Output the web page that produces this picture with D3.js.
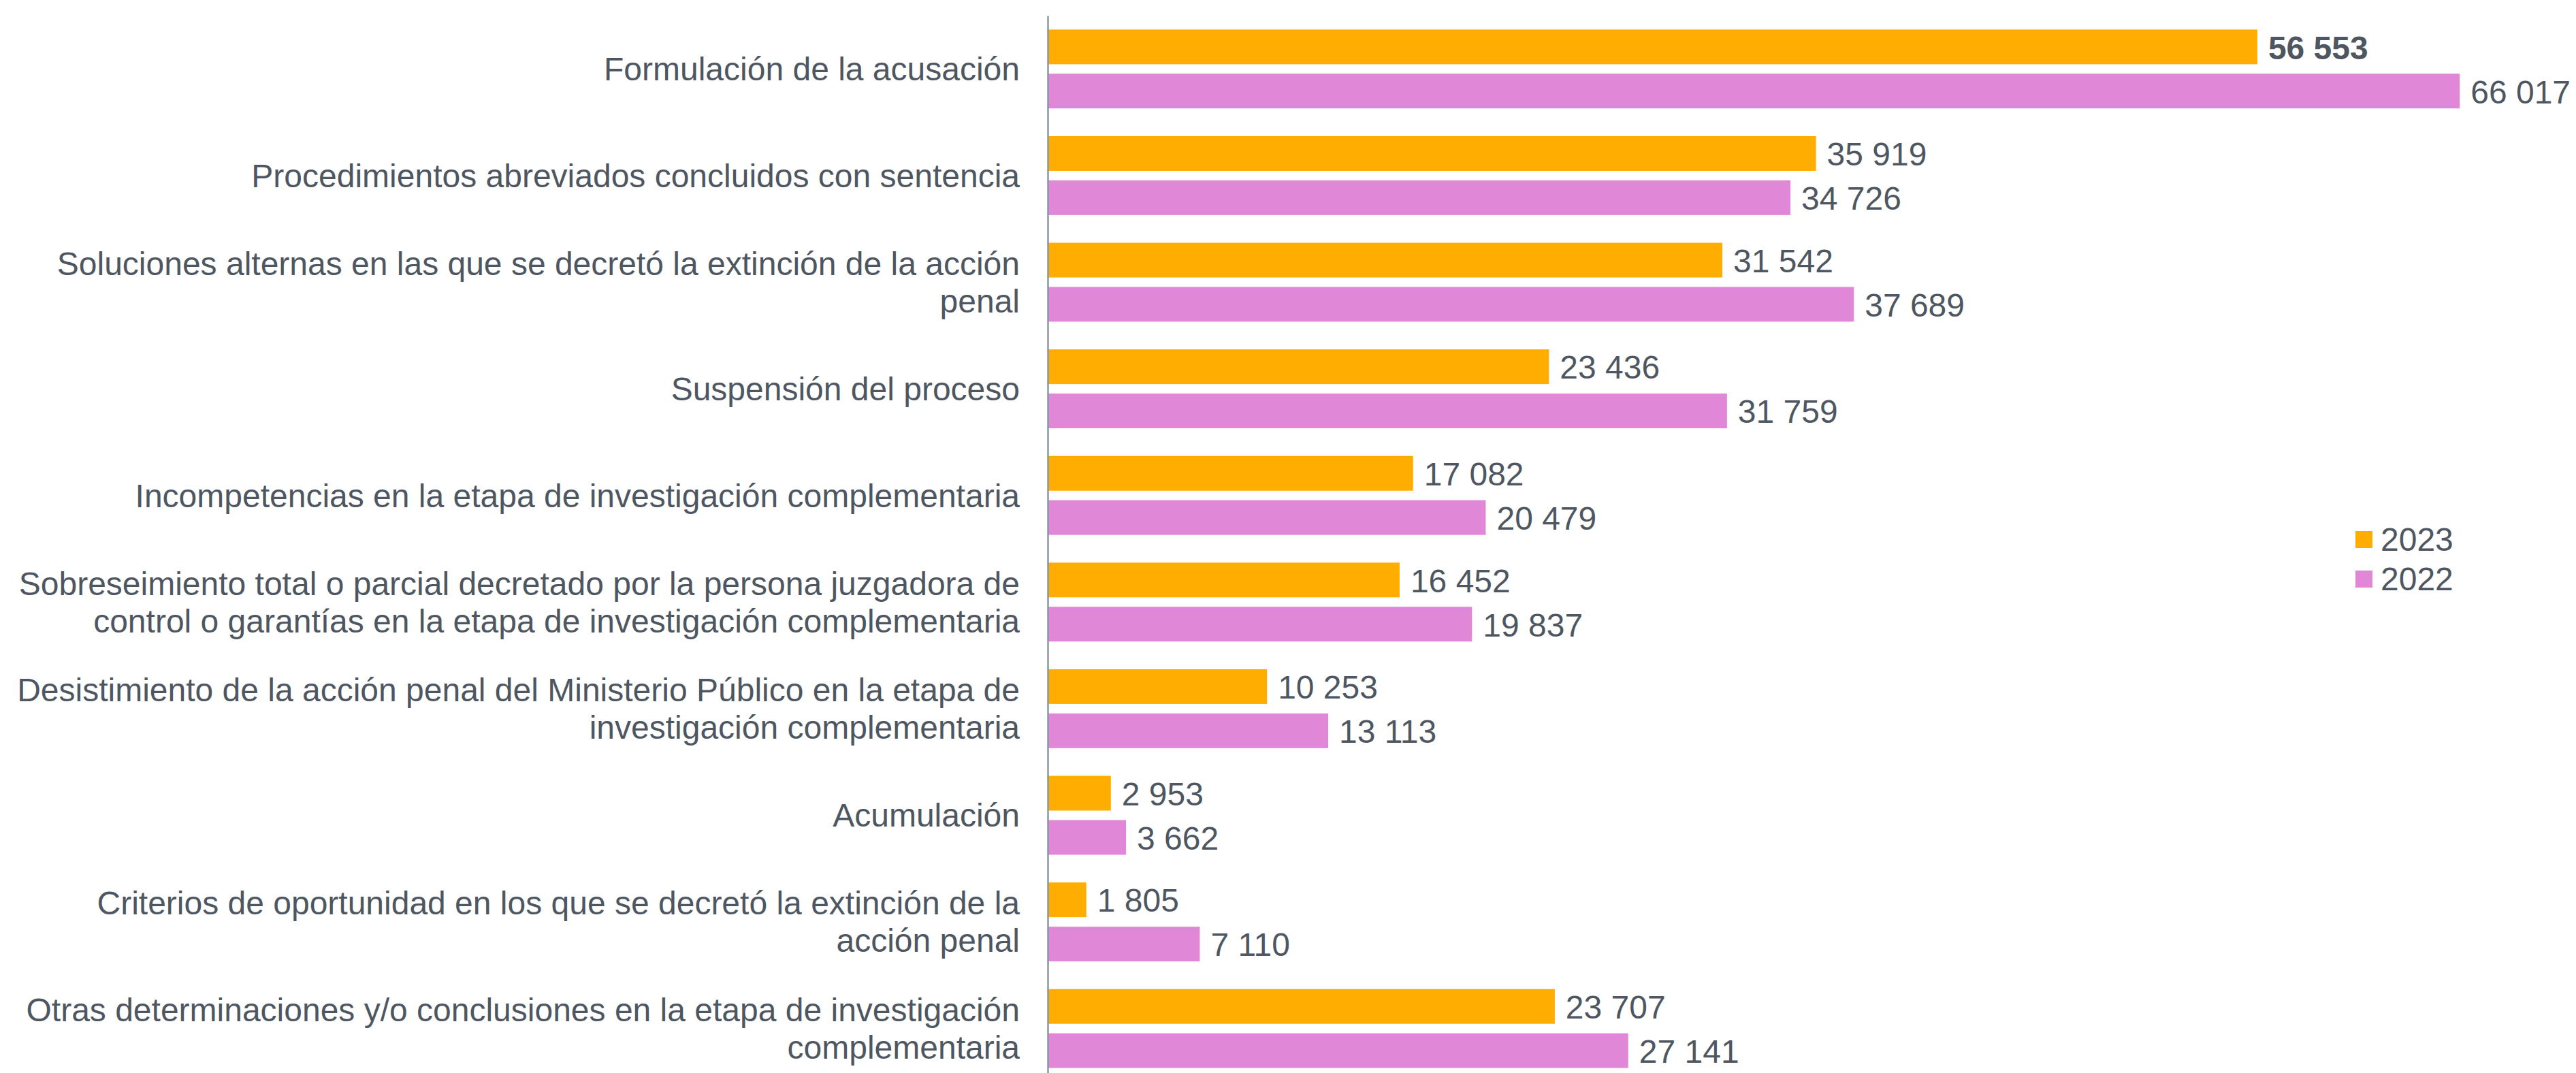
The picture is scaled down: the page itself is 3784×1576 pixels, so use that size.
<!DOCTYPE html>
<html>
<head>
<meta charset="utf-8">
<script src="https://cdn.jsdelivr.net/npm/d3@7"></script>
<style>
  body { margin: 0; background: #fff; }
  text { font-family: "Liberation Sans", Arial, sans-serif; fill: #4e5761; }
  .cat-label { font-size: 48px; }
  .val-label { font-size: 48px; }
  .legend-text { font-size: 48px; }
</style>
</head>
<body>
<svg id="chart"></svg>
<script>
const categories = [
  "Formulación de la acusación",
  "Procedimientos abreviados concluidos con sentencia",
  "Soluciones alternas en las que se decretó la extinción de la acción penal",
  "Suspensión del proceso",
  "Incompetencias en la etapa de investigación complementaria",
  "Sobreseimiento total o parcial decretado por la persona juzgadora de control o garantías en la etapa de investigación complementaria",
  "Desistimiento de la acción penal del Ministerio Público en la etapa de investigación complementaria",
  "Acumulación",
  "Criterios de oportunidad en los que se decretó la extinción de la acción penal",
  "Otras determinaciones y/o conclusiones en la etapa de investigación complementaria"
];
const years = ["2023", "2022"];
const values2023 = [56553, 35919, 31542, 23436, 17082, 16452, 10253, 2953, 1805, 23707];
const values2022 = [66017, 34726, 37689, 31759, 20479, 19837, 13113, 3662, 7110, 27141];
const colors = ["#ffad00", "#e088d7"];

const width = 3784, height = 1576;
const axisX = 1539;

const svg = d3.select("#chart")
    .attr("width", width)
    .attr("height", height);

const y0 = d3.scaleBand()
    .domain(categories)
    .range([23, 1589])
    .paddingInner(0.26)
    .paddingOuter(0.13);

const y1 = d3.scaleBand()
    .domain(years)
    .range([0, y0.bandwidth()])
    .paddingInner(0.215);

const x = d3.scaleLinear()
    .domain([0, 70000])
    .range([axisX, axisX + 70000 * 0.03142]);

const color = d3.scaleOrdinal().domain(years).range(colors);
const fmt = v => d3.format(",")(v).replace(/,/g, " ");

const rows = categories.map((c, i) => ({
    cat: c,
    vals: [
        { year: "2023", value: values2023[i], idx: i },
        { year: "2022", value: values2022[i], idx: i }
    ]
}));

const groups = svg.selectAll(".grp")
    .data(rows)
    .enter().append("g")
    .attr("class", "grp")
    .attr("transform", d => `translate(0,${y0(d.cat)})`);

groups.selectAll("rect")
    .data(d => d.vals)
    .enter().append("rect")
    .attr("x", x(0))
    .attr("y", d => y1(d.year))
    .attr("height", y1.bandwidth())
    .attr("width", d => x(d.value) - x(0))
    .attr("fill", d => color(d.year));

groups.selectAll(".val-label")
    .data(d => d.vals)
    .enter().append("text")
    .attr("class", "val-label")
    .attr("x", d => x(d.value) + 16)
    .attr("y", d => y1(d.year) + y1.bandwidth() / 2)
    .attr("dy", "0.37em")
    .attr("font-weight", d => (d.idx === 0 && d.year === "2023") ? "bold" : null)
    .text(d => fmt(d.value));

// axis line (no ticks)
const yAxis = d3.axisLeft(y0).tickSize(0).tickFormat("");
const axisG = svg.append("g")
    .attr("transform", `translate(${axisX},0)`)
    .call(yAxis);
axisG.select(".domain").attr("stroke", "#8a96a3").attr("stroke-width", 2.5);

// category labels, wrapped
const wrapWidth = 1490;
const lineH = 55;
const catLabels = svg.selectAll(".cat-label")
    .data(categories)
    .enter().append("text")
    .attr("class", "cat-label")
    .attr("text-anchor", "end")
    .attr("x", axisX - 41);

catLabels.each(function(d) {
    const t = d3.select(this);
    const words = d.split(" ");
    const lines = [];
    let line = [];
    const probe = t.append("tspan");
    words.forEach(w => {
        line.push(w);
        probe.text(line.join(" "));
        if (probe.node().getComputedTextLength() > wrapWidth && line.length > 1) {
            line.pop();
            lines.push(line.join(" "));
            line = [w];
        }
    });
    lines.push(line.join(" "));
    probe.remove();
    const cy = y0(d) + y0.bandwidth() / 2;
    const startY = cy - (lines.length - 1) * lineH / 2;
    lines.forEach((l, k) => {
        t.append("tspan")
            .attr("x", axisX - 41)
            .attr("y", startY + k * lineH)
            .attr("dy", "0.35em")
            .text(l);
    });
});

// legend
const legend = svg.append("g").attr("transform", "translate(3460,780)");
years.forEach((yr, i) => {
    legend.append("rect")
        .attr("x", 0)
        .attr("y", i * 58)
        .attr("width", 25)
        .attr("height", 25)
        .attr("fill", color(yr));
    legend.append("text")
        .attr("class", "legend-text")
        .attr("x", 37)
        .attr("y", i * 58 + 12.5)
        .attr("dy", "0.35em")
        .text(yr);
});
</script>
</body>
</html>
